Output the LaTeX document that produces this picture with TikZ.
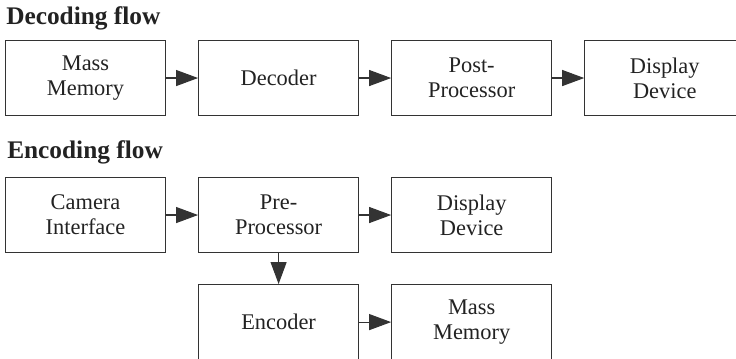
\documentclass[tikz,border=0pt]{standalone}
\usepackage{fontspec}
\setmainfont{Liberation Serif}
\usetikzlibrary{arrows.meta, positioning}
\definecolor{boxline}{HTML}{333333}
\definecolor{inktext}{HTML}{222222}

\begin{document}
\begin{tikzpicture}[
  node distance=24pt,
  blk/.style={rectangle,draw=boxline,line width=0.8pt,minimum width=120pt,minimum height=56.25pt,align=center,text=inktext,font=\fontsize{16.8}{18.75}\selectfont,inner sep=2pt},
  ttl/.style={anchor=base west,inner sep=0pt,text=inktext,font=\fontsize{19}{21}\selectfont\bfseries},
  arr/.style={-{Triangle[length=16.5pt,width=12pt]},line width=0.8pt,color=boxline}
]
\useasboundingbox (0,0) rectangle (552pt,-269.25pt);
% decoding flow
\node[ttl] (dtitle) at (4.5pt,-18.75pt) {Decoding flow};
\node[blk, anchor=north west] (dmem) at (3.75pt,-30pt) {Mass\\Memory};
\node[blk, right=of dmem] (dec) {Decoder};
\node[blk, right=of dec] (post) {Post-\\Processor};
\node[blk, right=of post] (ddisp) {Display\\Device};
\draw[arr] (dmem) -- (dec);
\draw[arr] (dec) -- (post);
\draw[arr] (post) -- (ddisp);
% encoding flow
\node[ttl] (etitle) at (5.25pt,-119.25pt) {Encoding flow};
\node[blk, anchor=north west] (cam) at (3.75pt,-132.75pt) {Camera\\Interface};
\node[blk, right=of cam] (pre) {Pre-\\Processor};
\node[blk, right=of pre] (edisp) {Display\\Device};
\node[blk, below=23.25pt of pre] (enc) {Encoder};
\node[blk, right=of enc] (emem) {Mass\\Memory};
\draw[arr] (cam) -- (pre);
\draw[arr] (pre) -- (edisp);
\draw[arr] (pre) -- (enc);
\draw[arr] (enc) -- (emem);
\end{tikzpicture}
\end{document}
